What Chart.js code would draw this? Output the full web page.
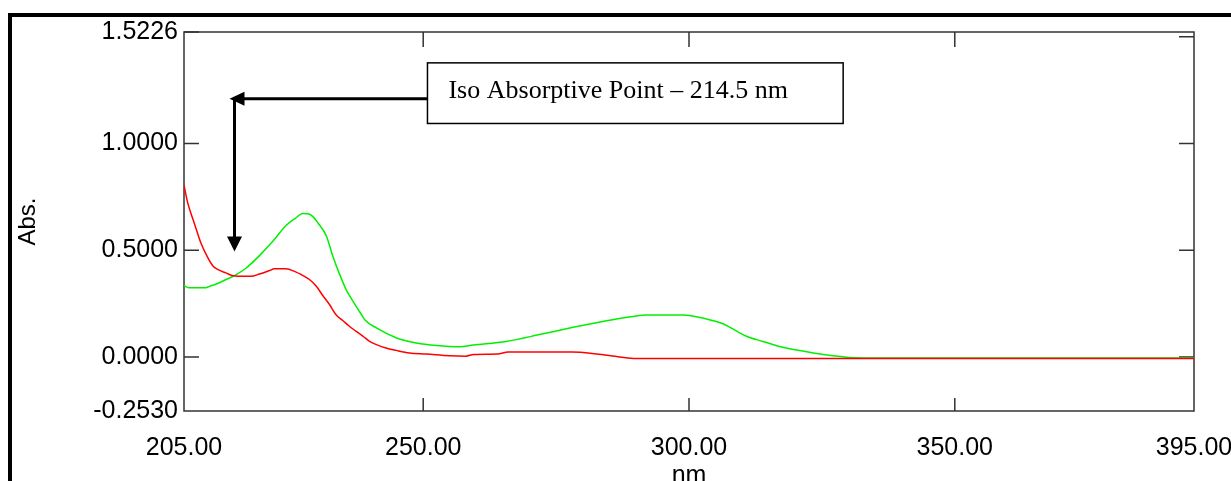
<!DOCTYPE html>
<html>
<head>
<meta charset="utf-8">
<script src="https://cdn.jsdelivr.net/npm/chart.js@4.4.1/dist/chart.umd.min.js"></script>
<style>
    html, body { margin: 0; padding: 0; background: #fff; overflow: hidden; }
    #wrap { position: relative; width: 1231px; height: 481px; }
</style>
</head>
<body>
<div id="wrap"><canvas id="spectrum"></canvas></div>
<script>
// wavelength (nm) / absorbance pairs for both scans
const redNm = [205.0, 205.7, 206.7, 207.6, 208.2, 209.5, 210.4, 211.4, 212.9, 214.2, 216.7, 217.6, 219.2, 221.1, 222.0, 224.2, 225.8, 227.4, 228.6, 229.9, 231.1, 232.4, 233.6, 234.9, 236.1, 237.4, 238.7, 239.9, 241.2, 243.0, 244.9, 247.4, 250.6, 255.0, 258.0, 259.5, 264.0, 266.0, 278.0, 282.6, 287.0, 290.0, 395.0];
const redAbs = [0.805, 0.722, 0.644, 0.576, 0.533, 0.464, 0.428, 0.409, 0.394, 0.381, 0.378, 0.378, 0.389, 0.405, 0.413, 0.413, 0.401, 0.381, 0.363, 0.331, 0.288, 0.245, 0.198, 0.170, 0.144, 0.120, 0.097, 0.073, 0.058, 0.042, 0.031, 0.019, 0.014, 0.006, 0.004, 0.012, 0.014, 0.023, 0.023, 0.014, 0.000, -0.007, -0.007];

const greenNm = [205.0, 206.0, 208.9, 209.8, 211.1, 212.9, 214.5, 216.7, 219.2, 221.7, 224.2, 225.8, 227.4, 228.3, 229.2, 230.2, 231.8, 233.0, 234.3, 235.5, 236.8, 238.4, 239.0, 241.2, 245.0, 248.7, 252.5, 256.9, 259.4, 265.6, 271.9, 278.2, 284.5, 289.5, 292.0, 298.9, 303.3, 306.4, 307.7, 310.8, 313.9, 316.5, 318.3, 323.4, 327.1, 330.3, 335.9, 395.0];
const greenAbs = [0.334, 0.324, 0.324, 0.331, 0.342, 0.363, 0.381, 0.417, 0.475, 0.542, 0.616, 0.647, 0.672, 0.671, 0.659, 0.628, 0.566, 0.472, 0.386, 0.316, 0.261, 0.198, 0.175, 0.136, 0.089, 0.066, 0.054, 0.048, 0.056, 0.073, 0.105, 0.139, 0.170, 0.190, 0.197, 0.197, 0.178, 0.156, 0.139, 0.097, 0.073, 0.053, 0.042, 0.019, 0.006, -0.002, -0.005, -0.005];

// axis ticks
const xLabelTicks = [205, 250, 300, 350, 395];
const xInnerTicks = [250, 300, 350];
const yLabelTicks = [-0.2530, 0, 0.5, 1.0, 1.5226];
const yLeftTicks = [0, 0.5, 1.0, 1.5226];
const yRightTicks = [0, 0.5, 1.0, 1.5];

// isosbestic point callout
const isoWavelength = 214.5;
const isoText = 'Iso Absorptive Point \u2013 ' + isoWavelength + ' nm';
const callout = { xMin: 250.8, xMax: 329.0, yMin: 1.094, yMax: 1.378, arrowY: 1.210, arrowTipY: 0.494 };

const toPoints = (xs, ys) => xs.map((x, i) => ({ x: x, y: ys[i] }));
const axisFont = { family: 'Liberation Sans, Arial, sans-serif', size: 25 };

const spectrumDecor = {
    id: 'spectrumDecor',
    beforeDatasetsDraw(chart) {
        const { ctx, chartArea: a, scales: { x, y } } = chart;
        ctx.save();
        ctx.strokeStyle = '#333';
        ctx.lineWidth = 1.5;
        ctx.strokeRect(a.left, a.top, a.right - a.left, a.bottom - a.top);
        ctx.beginPath();
        const len = 15;
        yLeftTicks.forEach(v => {
            const py = y.getPixelForValue(v);
            ctx.moveTo(a.left, py); ctx.lineTo(a.left + len, py);
        });
        yRightTicks.forEach(v => {
            const py = y.getPixelForValue(v);
            ctx.moveTo(a.right, py); ctx.lineTo(a.right - len, py);
        });
        xInnerTicks.forEach(v => {
            const px = x.getPixelForValue(v);
            ctx.moveTo(px, a.bottom); ctx.lineTo(px, a.bottom - len + 2);
            ctx.moveTo(px, a.top); ctx.lineTo(px, a.top + len);
        });
        ctx.stroke();
        ctx.restore();
    },
    afterDraw(chart) {
        const { ctx, scales: { x, y } } = chart;
        ctx.save();
        // heavy outer frame
        ctx.fillStyle = '#000';
        ctx.fillRect(8, 13, 4, chart.height);
        ctx.fillRect(8, 13, chart.width, 4);

        // callout box
        const bx = x.getPixelForValue(callout.xMin);
        const bx2 = x.getPixelForValue(callout.xMax);
        const by = y.getPixelForValue(callout.yMax);
        const by2 = y.getPixelForValue(callout.yMin);
        ctx.fillStyle = '#fff';
        ctx.fillRect(bx, by, bx2 - bx, by2 - by);
        ctx.strokeStyle = '#000';
        ctx.lineWidth = 1.5;
        ctx.strokeRect(bx, by, bx2 - bx, by2 - by);
        ctx.fillStyle = '#000';
        ctx.font = '26px "Liberation Serif", "Times New Roman", serif';
        ctx.textBaseline = 'alphabetic';
        ctx.fillText(isoText, bx + 21, by + 35);

        // arrows to the crossing
        const ix = x.getPixelForValue(isoWavelength);
        const ay = y.getPixelForValue(callout.arrowY);
        const tipY = y.getPixelForValue(callout.arrowTipY);
        ctx.lineWidth = 3;
        ctx.beginPath();
        ctx.moveTo(bx, ay); ctx.lineTo(ix, ay);
        ctx.moveTo(ix, ay); ctx.lineTo(ix, tipY - 12);
        ctx.stroke();
        ctx.beginPath();
        ctx.moveTo(ix - 5, ay); ctx.lineTo(ix + 10, ay - 7); ctx.lineTo(ix + 10, ay + 7); ctx.closePath();
        ctx.fill();
        ctx.beginPath();
        ctx.moveTo(ix, tipY); ctx.lineTo(ix - 7.5, tipY - 15); ctx.lineTo(ix + 7.5, tipY - 15); ctx.closePath();
        ctx.fill();
        ctx.restore();
    }
};

new Chart(document.getElementById('spectrum').getContext('2d'), {
    type: 'line',
    data: {
        datasets: [{
            label: 'Scan 1',
            data: toPoints(redNm, redAbs),
            borderColor: '#ff0000',
            borderWidth: 1.5,
            pointRadius: 0,
            cubicInterpolationMode: 'monotone',
            fill: false
        }, {
            label: 'Scan 2',
            data: toPoints(greenNm, greenAbs),
            borderColor: '#00f000',
            borderWidth: 1.5,
            pointRadius: 0,
            cubicInterpolationMode: 'monotone',
            fill: false
        }]
    },
    options: {
        responsive: true,
        maintainAspectRatio: false,
        animation: false,
        layout: { padding: { left: 0, top: 32, right: 37, bottom: 0 } },
        scales: {
            x: {
                type: 'linear',
                min: 205,
                max: 395,
                grid: { display: false, drawTicks: false },
                border: { display: false },
                ticks: {
                    color: '#000',
                    font: axisFont,
                    padding: 22,
                    maxRotation: 0,
                    autoSkip: false,
                    callback: function(value) {
                        return value.toFixed(2);
                    }
                },
                title: { display: true, text: 'nm', color: '#000', font: axisFont, padding: { top: 0, bottom: -10 } },
                afterBuildTicks: function(scale) {
                    scale.ticks = xLabelTicks.map(v => ({ value: v }));
                },
                afterFit: function(scale) {
                    scale.height = 70;
                    scale.paddingLeft = 0;
                    scale.paddingRight = 0;
                }
            },
            y: {
                type: 'linear',
                min: -0.2530,
                max: 1.5226,
                grid: { display: false, drawTicks: false },
                border: { display: false },
                ticks: {
                    color: '#000',
                    font: axisFont,
                    padding: 6,
                    autoSkip: false,
                    callback: function(value) {
                        return value.toFixed(4);
                    }
                },
                title: { display: true, text: 'Abs.', color: '#000', font: { family: axisFont.family, size: 24 }, padding: { top: 14, bottom: 0 } },
                afterBuildTicks: function(scale) {
                    scale.ticks = yLabelTicks.map(v => ({ value: v }));
                },
                afterFit: function(scale) {
                    scale.width = 184;
                    scale.paddingTop = 0;
                    scale.paddingBottom = 0;
                }
            }
        },
        plugins: {
            legend: { display: false },
            tooltip: { enabled: false }
        }
    },
    plugins: [spectrumDecor]
});
</script>
</body>
</html>
